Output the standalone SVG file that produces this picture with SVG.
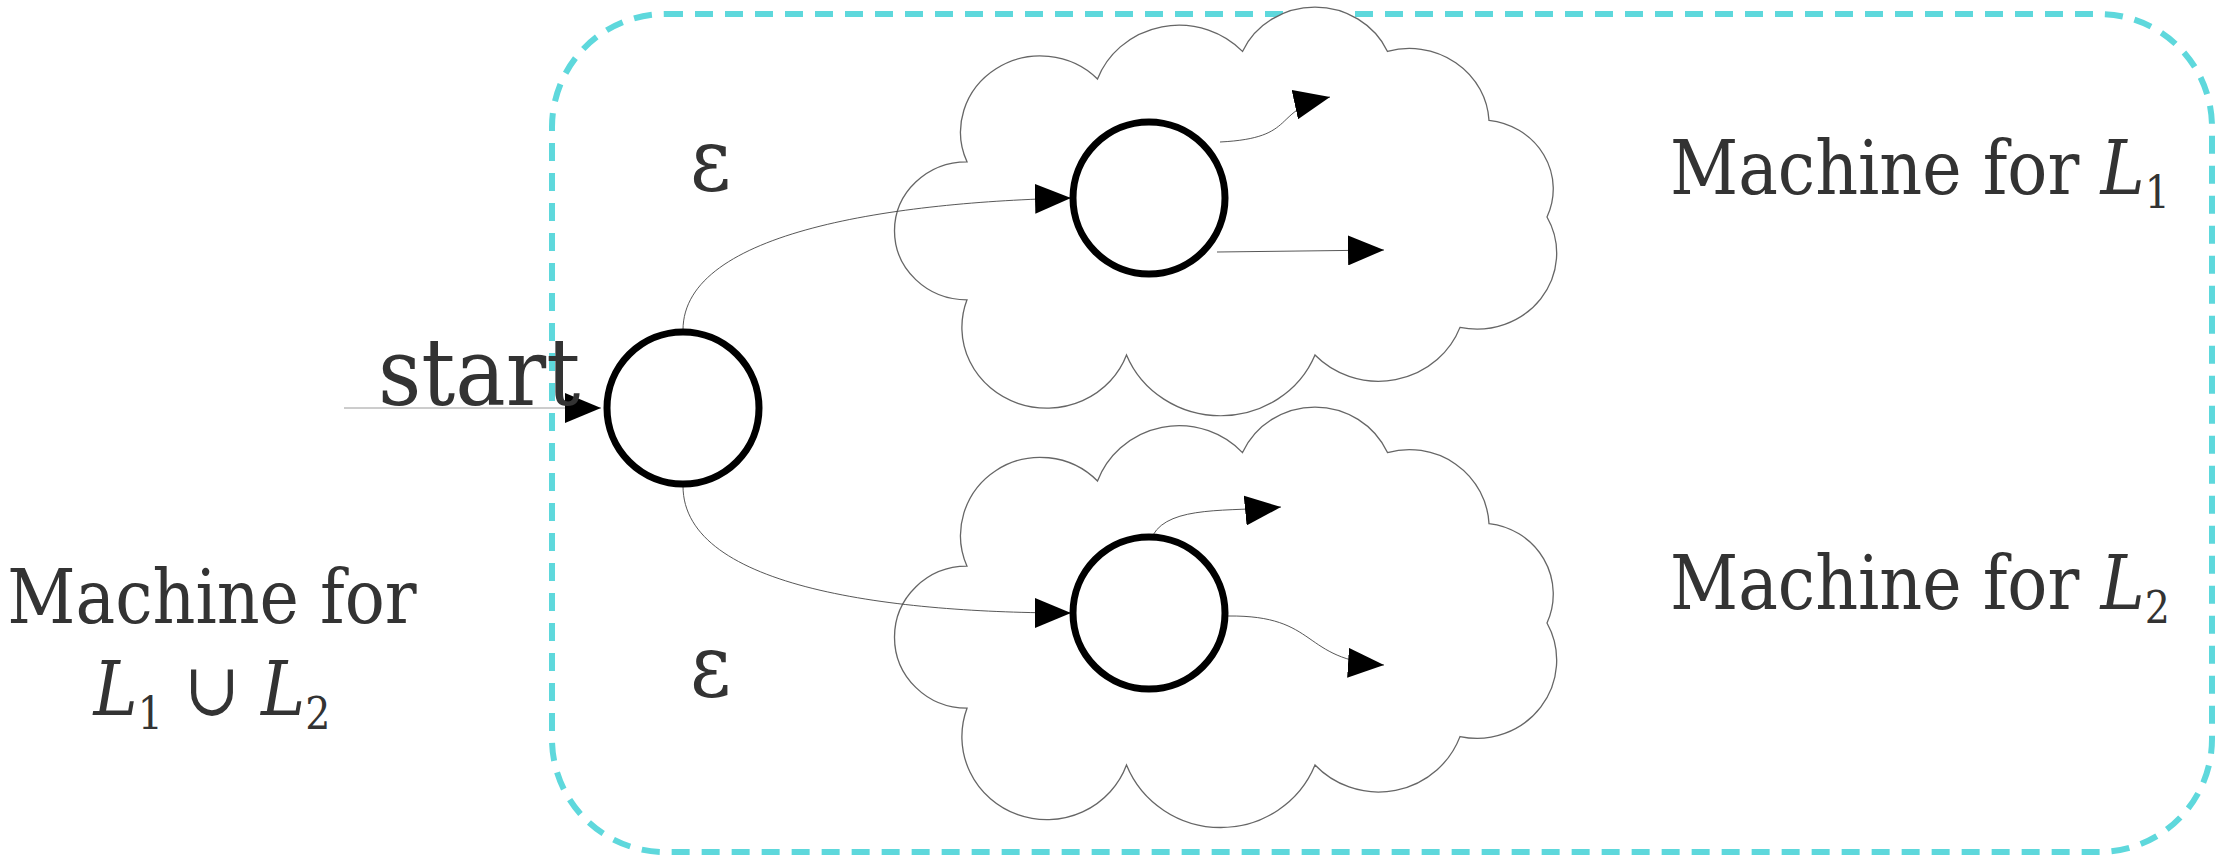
<svg xmlns="http://www.w3.org/2000/svg" width="2219" height="859" viewBox="0 0 2219 859">
<style>
.st{fill:#fff;stroke:#000;stroke-width:7}
.cl{fill:#fff;stroke:#666;stroke-width:0.9}
.ed{fill:none;stroke:#444;stroke-width:0.9}
.t{font-family:"DejaVu Serif","Liberation Serif",serif;font-stretch:condensed;fill:#333}
</style>
<defs>
<marker id="b" viewBox="0 0 10 10" refX="10" refY="5" markerWidth="36" markerHeight="30" markerUnits="userSpaceOnUse" orient="auto" preserveAspectRatio="none"><path d="M0,0L10,5L0,10Z" fill="#000"/></marker>
<path id="cloud" d="M60,110 A55,55 0 0 1 150,50 A60,60 0 0 1 250,30 A55,55 0 0 1 350,30 A55,55 0 0 1 420,80 A50,50 0 0 1 460,150 A55,55 0 0 1 400,230 A60,60 0 0 1 300,250 A70,70 0 0 1 170,250 A55,55 0 0 1 60,210 A45,45 0 0 1 60,110Z"/>
</defs>
<rect x="552" y="14" width="1660" height="838" rx="113" fill="none" stroke="#5ED8DC" stroke-width="6" stroke-dasharray="18,12"/>
<g id="cloud1"><use href="#cloud" class="cl" transform="translate(880,10) scale(1.45,1.38)"/></g>
<g id="cloud2"><use href="#cloud" class="cl" transform="translate(880,410) scale(1.45,1.42)"/></g>
<g id="connectors">
<path class="ed" d="M344,408 L601,408" stroke-opacity="0.6" marker-end="url(#b)"/>
<path class="ed" d="M683,330 C683,230 900,202 1071,198" marker-end="url(#b)"/>
<path class="ed" d="M683,486 C683,590 900,613 1071,613" marker-end="url(#b)"/>
<path class="ed" d="M1220,142 C1300,138 1270,110 1330,97" marker-end="url(#b)"/>
<path class="ed" d="M1217,252 L1384,250" marker-end="url(#b)"/>
<path class="ed" d="M1153,535 C1170,505 1230,512 1281,507" marker-end="url(#b)"/>
<path class="ed" d="M1228,616 C1320,615 1300,660 1384,665" marker-end="url(#b)"/>
</g>
<g id="s0"><circle class="st" cx="683" cy="408" r="76"/></g>
<g id="s1"><circle class="st" cx="1149" cy="198" r="76"/></g>
<g id="s2"><circle class="st" cx="1149" cy="613" r="76"/></g>
<text class="t" x="378" y="405" font-size="94">start</text>
<text class="t" x="690" y="190" font-size="88">ε</text>
<text class="t" x="690" y="696" font-size="88">ε</text>
<text class="t" x="1670" y="194" font-size="74">Machine for <tspan font-style="italic">L</tspan><tspan font-size="44" dy="14">1</tspan></text>
<text class="t" x="1670" y="609" font-size="74">Machine for <tspan font-style="italic">L</tspan><tspan font-size="44" dy="14">2</tspan></text>
<text class="t" x="212" y="623" font-size="74" text-anchor="middle">Machine for</text>
<text class="t" x="212" y="715" font-size="74" text-anchor="middle"><tspan font-style="italic">L</tspan><tspan font-size="44" dy="14">1</tspan><tspan dy="-14"> ∪ </tspan><tspan font-style="italic">L</tspan><tspan font-size="44" dy="14">2</tspan></text>
</svg>
